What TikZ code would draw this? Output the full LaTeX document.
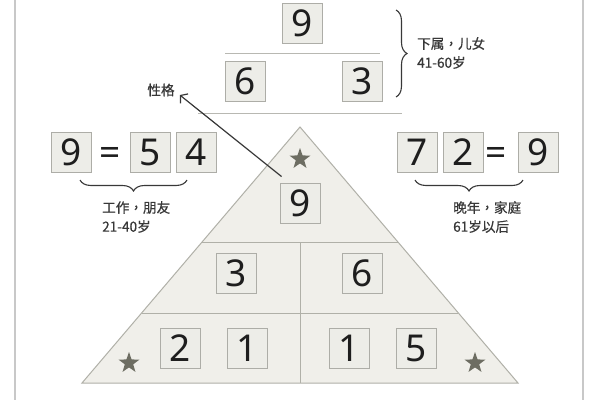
\documentclass[tikz,border=0pt]{standalone}
\usepackage{fontspec}
\setmainfont{Noto Sans}
\newfontfamily\cjk[FakeBold=0.5,Script=CJK,Language=Chinese Traditional]{Noto Sans CJK TC}
\usetikzlibrary{shapes.geometric,decorations.pathreplacing,arrows.meta}
\definecolor{boxfill}{HTML}{EDEDE8}
\definecolor{boxline}{HTML}{ADADA7}
\definecolor{pyrfill}{HTML}{F0EFEA}
\definecolor{pyrline}{HTML}{B0B0A8}
\definecolor{starcol}{HTML}{6D6D62}
\definecolor{ink}{HTML}{1E1E1E}
\definecolor{txt}{HTML}{383838}
\definecolor{framecol}{HTML}{C8C8C8}
\definecolor{rulecol}{HTML}{B8B8B2}
\begin{document}
\begin{tikzpicture}[x=1pt,y=-1pt,
  numbox/.style={draw=boxline,fill=boxfill,line width=0.9pt,minimum size=40pt,inner sep=0pt,
    font=\fontsize{37}{40}\selectfont,text=ink},
  eqsign/.style={inner sep=0pt,font=\fontsize{37}{40}\selectfont,text=ink},
  starmark/.style={star,star points=5,star point ratio=2.5,minimum size=22pt,inner sep=0pt,fill=starcol},
  lab/.style={font=\cjk\fontsize{13.6}{19}\selectfont,text=txt,inner sep=1pt},
  bracecol/.style={draw=txt,line width=1.1pt,decorate},
  arr/.style={draw=txt,line width=1.2pt,-{Straight Barb[length=5pt,width=12pt,line width=1.2pt]}}]
\useasboundingbox (0,0) rectangle (600,400);
\fill[white] (0,0) rectangle (600,400);
\draw[framecol,line width=1.6pt] (15,0) -- (15,400) (583,0) -- (583,400);
% pyramid
\coordinate (apex) at (300,127);
\coordinate (bl) at (82,383);
\coordinate (br) at (518,383);
\coordinate (m1l) at (202,242);
\coordinate (m1r) at (398,242);
\coordinate (m2l) at (142,313);
\coordinate (m2r) at (458,313);
\coordinate (mid) at (300,242);
\coordinate (bmid) at (300,383);
\filldraw[fill=pyrfill,draw=pyrline,line width=1pt] (apex) -- (br) -- (bl) -- cycle;
\draw[pyrline,line width=1pt] (m1l) -- (m1r) (m2l) -- (m2r) (mid) -- (bmid);
\node[starmark] (s1) at (300,159) {};
\node[starmark] (s2) at (129,363) {};
\node[starmark] (s3) at (475,363) {};
\node[numbox] (p9) at (300,203) {9};
\node[numbox] (p3) at (236,273) {3};
\node[numbox] (p6) at (362,273) {6};
\node[numbox] (p2) at (180,348) {2};
\node[numbox] (p1a) at (247,348) {1};
\node[numbox] (p1b) at (349,348) {1};
\node[numbox] (p5) at (416,348) {5};
% top
\node[numbox] (t9) at (302,23) {9};
\node[numbox] (t6) at (245,81) {6};
\node[numbox] (t3) at (362,81) {3};
\coordinate (r1l) at (225,53);
\coordinate (r1r) at (380,53);
\coordinate (r2l) at (198,113);
\coordinate (r2r) at (402,113);
\draw[rulecol,line width=1pt] (r1l) -- (r1r) (r2l) -- (r2r);
\coordinate (tb1) at (396,10);
\coordinate (tb2) at (396,97);
\draw[bracecol,decoration={brace,amplitude=11pt}] (tb1) -- (tb2);
\node[lab,align=left,anchor=west] (ttext) at (416,53) {下属，儿女\\41-60岁};
% left group
\node[numbox] (l9) at (71,152) {9};
\node[eqsign] (leq) at (110,156) {=};
\node[numbox] (l5) at (150,152) {5};
\node[numbox] (l4) at (196,152) {4};
\coordinate (lb1) at (187,180);
\coordinate (lb2) at (80,180);
\draw[bracecol,decoration={brace,amplitude=11pt}] (lb1) -- (lb2);
\node[lab,align=left,anchor=west] (ltext) at (101,217) {工作，朋友\\21-40岁};
% right group
\node[numbox] (r7) at (417,152) {7};
\node[numbox] (r2) at (463,152) {2};
\node[eqsign] (req) at (496,156) {=};
\node[numbox] (r9) at (538,152) {9};
\coordinate (rb1) at (523,180);
\coordinate (rb2) at (415,180);
\draw[bracecol,decoration={brace,amplitude=11pt}] (rb1) -- (rb2);
\node[lab,align=left,anchor=west] (rtext) at (452,217) {晚年，家庭\\61岁以后};
% arrow
\node[lab] (xg) at (161,90) {性格};
\draw[arr] ([shift={(2,-6)}]p9.north west) -- ([shift={(4,5)}]xg.east);
\end{tikzpicture}
\end{document}
